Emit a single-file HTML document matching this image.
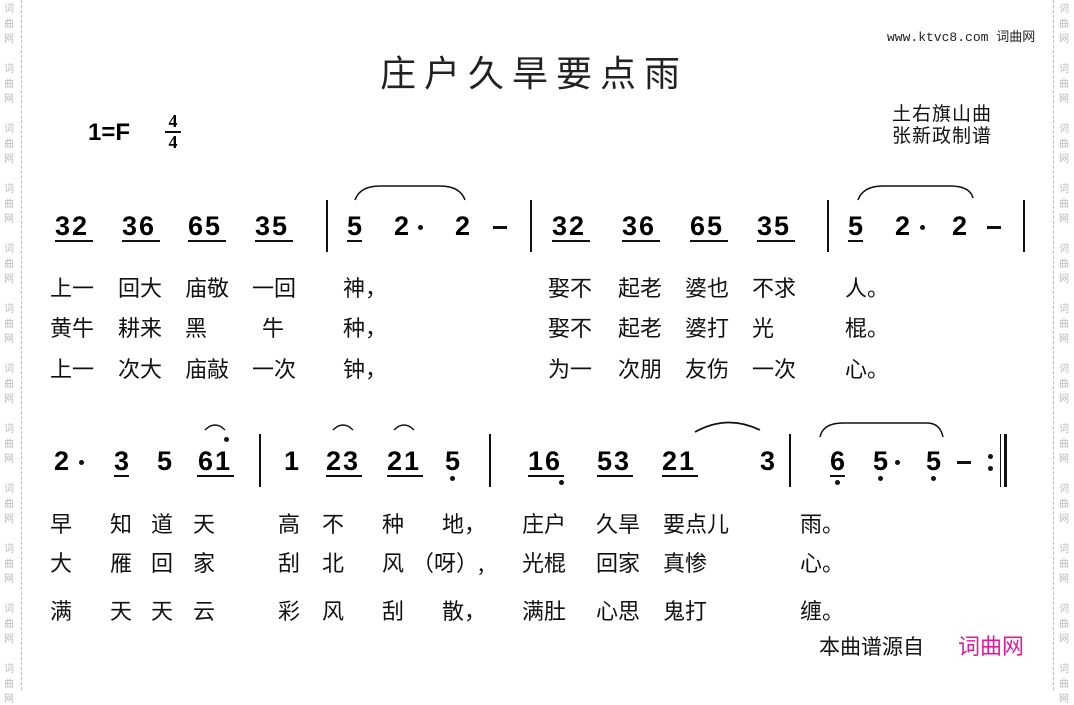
<!DOCTYPE html>
<html><head><meta charset="utf-8"><style>
body{margin:0;width:1074px;height:690px;background:#fff;position:relative;overflow:hidden;font-family:"Liberation Sans","Noto Sans CJK SC",sans-serif}
.a{position:absolute;white-space:nowrap}
.n{position:absolute;font:bold 27px "Liberation Sans",sans-serif;line-height:25px;color:#000;white-space:nowrap}
.u{position:absolute;height:2px;background:#111}
.b{position:absolute;width:2px;background:#111}
.d{position:absolute;width:5px;height:5px;border-radius:50%;background:#111}
.l{position:absolute;font:22px "Noto Sans CJK SC",sans-serif;line-height:22px;color:#111;white-space:nowrap}
.w{position:absolute;font:10px "Noto Sans CJK SC",sans-serif;color:#bbb;line-height:15px;width:12px}
</style></head><body>
<div class="a" style="left:21px;top:0;height:690px;border-left:1px dashed #bbb"></div>
<div class="a" style="left:1053px;top:0;height:690px;border-left:1px dashed #bbb"></div>
<div id="wl"></div>
<script>
var s='';for(var y=0;y<690;y+=60){s+='<div class="w" style="left:4px;top:'+(y)+'px">词<br>曲<br>网</div><div class="w" style="left:1059px;top:'+(y)+'px">词<br>曲<br>网</div>';}
document.getElementById('wl').outerHTML=s;
</script>
<div class="a" style="left:380px;top:45px;font:36px 'Noto Sans CJK SC',sans-serif;letter-spacing:8px;color:#222">庄户久旱要点雨</div>
<div class="a" style="left:887px;top:26px;font:13px 'Liberation Mono',monospace;color:#222">www.ktvc8.com <span style="font-family:'Noto Sans CJK SC'">词曲网</span></div>
<div class="a" style="left:892px;top:102px;font:19px/22px 'Noto Sans CJK SC',sans-serif;color:#111;letter-spacing:1px">土右旗山曲<br>张新政制谱</div>
<div class="a" style="left:88px;top:119px;font:bold 24px 'Liberation Sans',sans-serif">1=F</div>
<div class="a" style="left:165px;top:113px;font:bold 18px/17px 'Liberation Serif',serif;text-align:center;width:16px">4<div style="height:2px;background:#111;margin:1px 0"></div>4</div>

<!-- row1 -->
<div class="n" style="left:55px;top:214px;letter-spacing:2px">32</div><div class="u" style="left:55px;top:240px;width:38px"></div>
<div class="n" style="left:122px;top:214px;letter-spacing:2px">36</div><div class="u" style="left:122px;top:240px;width:38px"></div>
<div class="n" style="left:188px;top:214px;letter-spacing:2px">65</div><div class="u" style="left:188px;top:240px;width:38px"></div>
<div class="n" style="left:255px;top:214px;letter-spacing:2px">35</div><div class="u" style="left:255px;top:240px;width:38px"></div>
<div class="b" style="left:326px;top:200px;height:52px"></div>
<div class="n" style="left:347px;top:214px">5</div><div class="u" style="left:347px;top:240px;width:15px"></div>
<div class="n" style="left:394px;top:214px">2</div><div class="d" style="left:418px;top:225px"></div>
<div class="n" style="left:455px;top:214px">2</div>
<div class="u" style="left:493px;top:226px;width:14px;height:3px"></div>
<div class="b" style="left:530px;top:200px;height:52px"></div>
<svg class="a" style="left:340px;top:180px" width="140" height="25"><path d="M15 20 Q20 6 40 6 L100 6 Q120 6 125 20" fill="none" stroke="#111" stroke-width="1.5"/></svg>

<div class="n" style="left:552px;top:214px;letter-spacing:2px">32</div><div class="u" style="left:552px;top:240px;width:38px"></div>
<div class="n" style="left:622px;top:214px;letter-spacing:2px">36</div><div class="u" style="left:622px;top:240px;width:38px"></div>
<div class="n" style="left:690px;top:214px;letter-spacing:2px">65</div><div class="u" style="left:690px;top:240px;width:38px"></div>
<div class="n" style="left:757px;top:214px;letter-spacing:2px">35</div><div class="u" style="left:757px;top:240px;width:38px"></div>
<div class="b" style="left:827px;top:200px;height:52px"></div>
<div class="n" style="left:848px;top:214px">5</div><div class="u" style="left:848px;top:240px;width:15px"></div>
<div class="n" style="left:895px;top:214px">2</div><div class="d" style="left:920px;top:225px"></div>
<div class="n" style="left:952px;top:214px">2</div>
<div class="u" style="left:987px;top:226px;width:14px;height:3px"></div>
<div class="b" style="left:1023px;top:200px;height:52px"></div>
<svg class="a" style="left:845px;top:180px" width="140" height="25"><path d="M13 20 Q18 6 38 6 L105 6 Q125 6 128 18" fill="none" stroke="#111" stroke-width="1.5"/></svg>

<!-- lyrics 1 -->
<div class="l" style="left:50px;top:276px">上一</div><div class="l" style="left:118px;top:276px">回大</div><div class="l" style="left:185px;top:276px">庙敬</div><div class="l" style="left:252px;top:276px">一回</div><div class="l" style="left:343px;top:276px">神，</div>
<div class="l" style="left:548px;top:276px">娶不</div><div class="l" style="left:618px;top:276px">起老</div><div class="l" style="left:685px;top:276px">婆也</div><div class="l" style="left:752px;top:276px">不求</div><div class="l" style="left:845px;top:276px">人。</div>
<div class="l" style="left:50px;top:316px">黄牛</div><div class="l" style="left:118px;top:316px">耕来</div><div class="l" style="left:185px;top:316px">黑</div><div class="l" style="left:262px;top:316px">牛</div><div class="l" style="left:343px;top:316px">种，</div>
<div class="l" style="left:548px;top:316px">娶不</div><div class="l" style="left:618px;top:316px">起老</div><div class="l" style="left:685px;top:316px">婆打</div><div class="l" style="left:752px;top:316px">光</div><div class="l" style="left:845px;top:316px">棍。</div>
<div class="l" style="left:50px;top:357px">上一</div><div class="l" style="left:118px;top:357px">次大</div><div class="l" style="left:185px;top:357px">庙敲</div><div class="l" style="left:252px;top:357px">一次</div><div class="l" style="left:343px;top:357px">钟，</div>
<div class="l" style="left:548px;top:357px">为一</div><div class="l" style="left:618px;top:357px">次朋</div><div class="l" style="left:685px;top:357px">友伤</div><div class="l" style="left:752px;top:357px">一次</div><div class="l" style="left:845px;top:357px">心。</div>

<!-- row2 -->
<div class="n" style="left:54px;top:449px">2</div><div class="d" style="left:79px;top:460px"></div>
<div class="n" style="left:114px;top:449px">3</div><div class="u" style="left:114px;top:475px;width:15px"></div>
<div class="n" style="left:157px;top:449px">5</div>
<div class="n" style="left:198px;top:449px;letter-spacing:2px">61</div><div class="u" style="left:197px;top:475px;width:37px"></div><div class="d" style="left:224px;top:437px"></div>
<svg class="a" style="left:203px;top:420px" width="24" height="12"><path d="M2 10 Q12 0 22 10" fill="none" stroke="#111" stroke-width="1.5"/></svg>
<div class="b" style="left:259px;top:434px;height:53px"></div>
<div class="n" style="left:284px;top:449px">1</div>
<div class="n" style="left:326px;top:449px;letter-spacing:2px">23</div><div class="u" style="left:326px;top:475px;width:36px"></div>
<svg class="a" style="left:331px;top:420px" width="24" height="12"><path d="M2 10 Q12 0 22 10" fill="none" stroke="#111" stroke-width="1.5"/></svg>
<div class="n" style="left:387px;top:449px;letter-spacing:2px">21</div><div class="u" style="left:387px;top:475px;width:36px"></div>
<svg class="a" style="left:392px;top:420px" width="24" height="12"><path d="M2 10 Q12 0 22 10" fill="none" stroke="#111" stroke-width="1.5"/></svg>
<div class="n" style="left:445px;top:449px">5</div><div class="d" style="left:450px;top:476px"></div>
<div class="b" style="left:489px;top:434px;height:53px"></div>
<div class="n" style="left:528px;top:449px;letter-spacing:2px">16</div><div class="u" style="left:528px;top:475px;width:36px"></div><div class="d" style="left:559px;top:480px"></div>
<div class="n" style="left:597px;top:449px;letter-spacing:2px">53</div><div class="u" style="left:597px;top:475px;width:36px"></div>
<div class="n" style="left:662px;top:449px;letter-spacing:2px">21</div><div class="u" style="left:662px;top:475px;width:36px"></div>
<svg class="a" style="left:692px;top:418px" width="72" height="16"><path d="M3 14 Q35 -4 68 12" fill="none" stroke="#111" stroke-width="1.8"/></svg>
<div class="n" style="left:760px;top:449px">3</div>
<div class="b" style="left:789px;top:434px;height:53px"></div>
<svg class="a" style="left:815px;top:415px" width="140" height="25"><path d="M5 22 Q8 8 28 8 L112 8 Q125 8 128 22" fill="none" stroke="#111" stroke-width="1.5"/></svg>
<div class="n" style="left:830px;top:449px">6</div><div class="u" style="left:830px;top:475px;width:15px"></div><div class="d" style="left:835px;top:480px"></div>
<div class="n" style="left:873px;top:449px">5</div><div class="d" style="left:878px;top:476px"></div><div class="d" style="left:895px;top:460px"></div>
<div class="n" style="left:926px;top:449px">5</div><div class="d" style="left:931px;top:476px"></div>
<div class="u" style="left:957px;top:461px;width:14px;height:3px"></div>
<div class="d" style="left:988px;top:454px"></div><div class="d" style="left:988px;top:466px"></div>
<div class="b" style="left:1000px;top:434px;height:53px;width:1px"></div>
<div class="b" style="left:1004px;top:434px;height:53px;width:3px"></div>

<!-- lyrics 2 -->
<div class="l" style="left:50px;top:512px">早</div><div class="l" style="left:110px;top:512px">知</div><div class="l" style="left:151px;top:512px">道</div><div class="l" style="left:193px;top:512px">天</div><div class="l" style="left:278px;top:512px">高</div><div class="l" style="left:322px;top:512px">不</div><div class="l" style="left:382px;top:512px">种</div><div class="l" style="left:442px;top:512px">地，</div><div class="l" style="left:522px;top:512px">庄户</div><div class="l" style="left:596px;top:512px">久旱</div><div class="l" style="left:663px;top:512px">要点儿</div><div class="l" style="left:800px;top:512px">雨。</div>
<div class="l" style="left:50px;top:551px">大</div><div class="l" style="left:110px;top:551px">雁</div><div class="l" style="left:151px;top:551px">回</div><div class="l" style="left:193px;top:551px">家</div><div class="l" style="left:278px;top:551px">刮</div><div class="l" style="left:322px;top:551px">北</div><div class="l" style="left:382px;top:551px">风</div><div class="l" style="left:412px;top:551px">（呀）,</div><div class="l" style="left:522px;top:551px">光棍</div><div class="l" style="left:596px;top:551px">回家</div><div class="l" style="left:663px;top:551px">真惨</div><div class="l" style="left:800px;top:551px">心。</div>
<div class="l" style="left:50px;top:599px">满</div><div class="l" style="left:110px;top:599px">天</div><div class="l" style="left:151px;top:599px">天</div><div class="l" style="left:193px;top:599px">云</div><div class="l" style="left:278px;top:599px">彩</div><div class="l" style="left:322px;top:599px">风</div><div class="l" style="left:382px;top:599px">刮</div><div class="l" style="left:442px;top:599px">散，</div><div class="l" style="left:522px;top:599px">满肚</div><div class="l" style="left:596px;top:599px">心思</div><div class="l" style="left:663px;top:599px">鬼打</div><div class="l" style="left:800px;top:599px">缠。</div>

<div class="l" style="left:819px;top:635px;font-size:21px">本曲谱源自</div>
<div class="l" style="left:958px;top:634px;font-size:22px;color:#e0199a">词曲网</div>
</body></html>
